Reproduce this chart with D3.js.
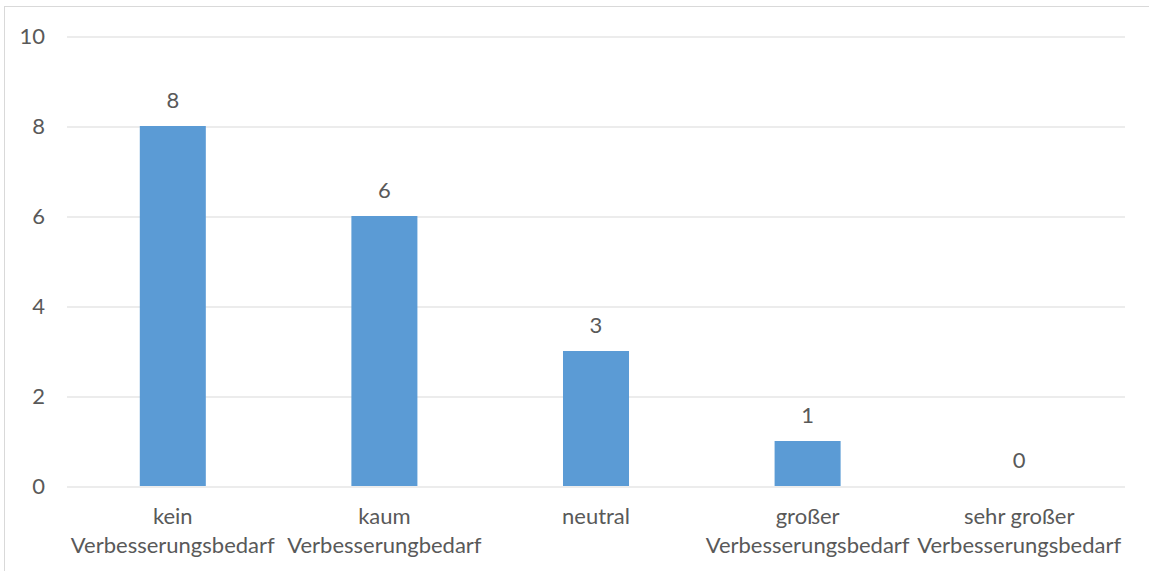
<!DOCTYPE html>
<html>
<head>
<meta charset="utf-8">
<script src="https://cdn.jsdelivr.net/npm/d3@7"></script>
<style>
  html, body { margin: 0; padding: 0; background: #ffffff; }
  svg { display: block; }
</style>
</head>
<body>
<svg id="chart" width="1149" height="571"></svg>
<script>
// Survey answers: how much improvement is needed
const categories = [
  ["kein", "Verbesserungsbedarf"],
  ["kaum", "Verbesserungbedarf"],
  ["neutral"],
  ["großer", "Verbesserungsbedarf"],
  ["sehr großer", "Verbesserungsbedarf"]
];
const counts = [8, 6, 3, 1, 0];
const yTicks = [0, 2, 4, 6, 8, 10];

const svg = d3.select("#chart");
const W = 1149, H = 571;
const plot = { left: 67, right: 1125, top: 36, bottom: 486 };
const font = "Lato, 'Open Sans', sans-serif";
const textColor = "#595959";
const gridColor = "#d9d9d9";
const barColor = "#5b9bd5";

// outer chart frame
svg.append("rect")
  .attr("x", 4.5).attr("y", 6.5)
  .attr("width", W).attr("height", H)
  .attr("fill", "none").attr("stroke", gridColor).attr("stroke-width", 1);

const x = d3.scaleBand()
  .domain(d3.range(categories.length))
  .range([plot.left, plot.right])
  .paddingInner(0.688)
  .paddingOuter(0.344);

const y = d3.scaleLinear().domain([0, 10]).range([plot.bottom, plot.top]);

// horizontal gridlines and value axis
const yAxis = d3.axisLeft(y).tickValues(yTicks).tickSize(-(plot.right - plot.left)).tickPadding(22);
const gy = svg.append("g").attr("transform", `translate(${plot.left},0)`).call(yAxis);
gy.select(".domain").remove();
gy.selectAll(".tick line").attr("stroke", gridColor).attr("stroke-width", 1)
  .attr("transform", "translate(0,0.5)");
gy.selectAll(".tick text")
  .attr("fill", textColor).attr("font-family", font).attr("font-size", 22);

// bars
svg.append("g").selectAll("rect")
  .data(counts)
  .join("rect")
  .attr("x", (d, i) => x(i))
  .attr("width", x.bandwidth())
  .attr("y", d => y(d))
  .attr("height", d => y(0) - y(d))
  .attr("fill", barColor);

// value labels above bars
svg.append("g").selectAll("text")
  .data(counts)
  .join("text")
  .attr("x", (d, i) => x(i) + x.bandwidth() / 2)
  .attr("y", d => y(d) - 18)
  .attr("text-anchor", "middle")
  .attr("fill", textColor)
  .attr("font-family", font)
  .attr("font-size", 22)
  .text(d => d);

// category labels, wrapped onto two lines
const catG = svg.append("g");
categories.forEach((lines, i) => {
  const t = catG.append("text")
    .attr("x", x(i) + x.bandwidth() / 2)
    .attr("y", plot.bottom + 38)
    .attr("text-anchor", "middle")
    .attr("fill", textColor)
    .attr("font-family", font)
    .attr("font-size", 22);
  lines.forEach((ln, k) => {
    t.append("tspan")
      .attr("x", x(i) + x.bandwidth() / 2)
      .attr("dy", k === 0 ? 0 : 29)
      .text(ln);
  });
});
</script>
</body>
</html>
